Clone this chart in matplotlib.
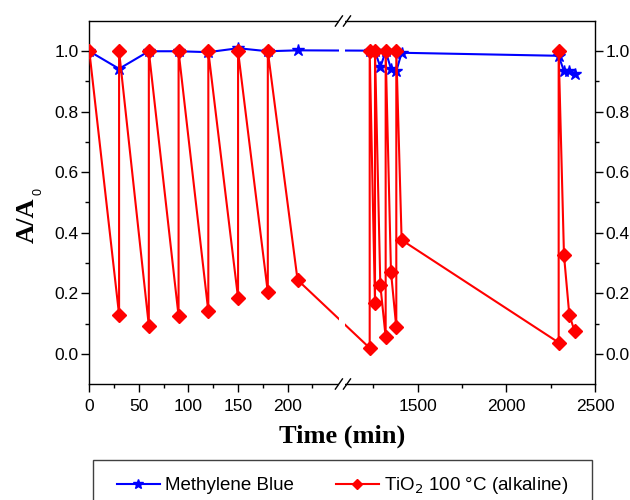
import numpy as np
import matplotlib
matplotlib.use("Agg")
import matplotlib.pyplot as plt
from matplotlib.ticker import FixedLocator

# data (time in min, A/A0)
mb_time = [0, 30, 60, 90, 120, 150, 180, 210,
           1230, 1260, 1290, 1320, 1350, 1380, 1410,
           2295, 2325, 2355, 2385]
mb_value = [1.0, 0.942, 1.0, 1.0, 0.997, 1.01, 1.0, 1.003,
            1.002, 1.0, 0.947, 1.0, 0.942, 0.934, 0.995,
            0.985, 0.934, 0.934, 0.925]

tio2_time = [0, 30, 30, 60, 60, 90, 90, 120, 120, 150, 150, 180, 180, 210,
             1230, 1230, 1260, 1260, 1290, 1320, 1320, 1350, 1380, 1380, 1410,
             2295, 2295, 2325, 2355, 2385]
tio2_value = [1.0, 0.129, 1.0, 0.093, 1.0, 0.125, 1.0, 0.14, 1.0, 0.184, 1.0, 0.203, 1.0, 0.244,
              0.019, 1.0, 0.167, 1.0, 0.227, 0.055, 1.0, 0.271, 0.087, 1.0, 0.376,
              0.037, 1.0, 0.326, 0.129, 0.074]

x_major = [0, 50, 100, 150, 200, 1500, 2000, 2500]
x_minor = [25, 75, 125, 175, 225, 1250, 1750, 2250]

# broken x axis: 0-255 on the left half, 1075-2500 on the right half
LEFT_END = 255.0
RIGHT_START = 1075.0
X_END = 2500.0


def fwd(x):
    x = np.asarray(x, dtype=float)
    return np.where(x <= LEFT_END, x / LEFT_END * 0.5,
                    0.5 + (x - RIGHT_START) / (X_END - RIGHT_START) * 0.5)


def inv(y):
    y = np.asarray(y, dtype=float)
    return np.where(y <= 0.5, y * 2 * LEFT_END,
                    RIGHT_START + (y - 0.5) * 2 * (X_END - RIGHT_START))


plt.rcParams['font.family'] = 'Liberation Sans'
plt.rcParams['axes.linewidth'] = 1.0

fig = plt.figure(figsize=(6.3, 5.0), dpi=100)
ax = fig.add_axes([0.1418, 0.232, 0.8027, 0.726])

ax.plot(mb_time, mb_value, color='#0000ff', lw=1.5, marker='*', ms=9,
        label='Methylene Blue', zorder=3)
ax.plot(tio2_time, tio2_value, color='#ff0000', lw=1.5, marker='D', ms=7,
        label='TiO$_2$ 100 \u00b0C (alkaline)', zorder=4)

ax.set_xscale('function', functions=(fwd, inv))
ax.set_xlim(0, X_END)
ax.set_ylim(-0.1, 1.1)
ax.xaxis.set_major_locator(FixedLocator(x_major))
ax.xaxis.set_minor_locator(FixedLocator(x_minor))
ax.set_xticklabels([str(v) for v in x_major])
ax.set_yticks(np.arange(0, 1.01, 0.2))
ax.set_yticks(np.arange(0.1, 1.0, 0.2), minor=True)
ax.set_yticklabels(['0.0', '0.2', '0.4', '0.6', '0.8', '1.0'])

ax.tick_params(axis='both', which='major', direction='out', length=5.5, width=1.0,
               labelsize=12.5)
ax.tick_params(axis='both', which='minor', direction='out', length=3, width=1.0)
ax.tick_params(axis='y', which='both', left=True, right=True, labelleft=True,
               labelright=True, pad=2)
ax.tick_params(axis='x', which='both', top=False, pad=5)

ax.set_xlabel('Time (min)', family='Liberation Serif', fontweight='bold', fontsize=19, labelpad=8)

# y label with a small subscript, as in the original
fig.text(0.044, 0.56, 'A/A', rotation=90, ha='center', va='center',
         family='Liberation Serif', fontweight='bold', fontsize=19)
fig.text(0.061, 0.617, '0', rotation=90, ha='center', va='center', fontsize=9)

# white gap and slashes at the axis break
ax.add_patch(plt.Rectangle((0.4935, -0.01), 0.013, 1.02, transform=ax.transAxes,
                           facecolor='white', edgecolor='none', clip_on=False, zorder=5))
for yb in [0.0, 1.0]:
    for x0 in [0.4865, 0.5025]:
        ax.plot([x0, x0 + 0.014], [yb - 0.014, yb + 0.014], transform=ax.transAxes,
                color='black', lw=1.0, clip_on=False, zorder=6)

# legend box runs past the bottom edge of the picture
fig.patches.append(plt.Rectangle((93 / 630, -0.05), 499 / 630, 0.05 + 40 / 500,
                                 transform=fig.transFigure, facecolor='white',
                                 edgecolor='#404040', lw=1.0))
fig.legend(loc='center', bbox_to_anchor=(0.5437, 0.028), ncol=2, fontsize=13.5,
           frameon=False, handlelength=2.3, handletextpad=0.3, columnspacing=2.2,
           markerscale=0.8)

fig.savefig('out.png', dpi=100)
